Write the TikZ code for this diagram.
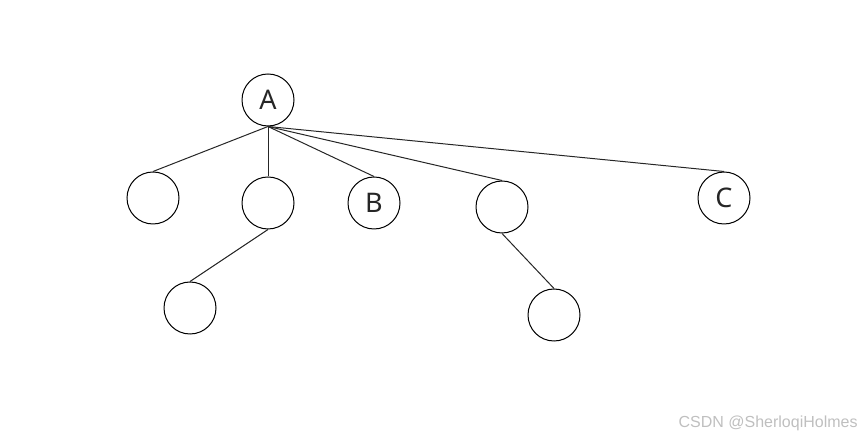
\documentclass[tikz,border=0pt]{standalone}
\usepackage{fontspec}
\setmainfont{Noto Sans}
\newfontfamily\markfont{Liberation Sans}
\usetikzlibrary{positioning}

\begin{document}
\begin{tikzpicture}[
    x=0.5pt, y=-0.5pt,
    vertex/.style={draw, circle, line width=0.5pt, minimum size=26pt, inner sep=0pt, font=\fontsize{13.5}{13.5}\selectfont, text=black!85},
    edge/.style={line width=0.5pt, draw=black!85}]
    \useasboundingbox (0,0) rectangle (861,437);
    % root and its children
    \node[vertex] (a) at (268,100) {A};
    \node[vertex] (c1) at (153,198) {};
    \node[vertex] (c2) at (268,203) {};
    \node[vertex] (b) at (374,203) {B};
    \node[vertex] (c4) at (502,207) {};
    \node[vertex] (c) at (724,198) {C};
    % second level
    \node[vertex] (g1) at (190,308) {};
    \node[vertex] (g2) at (554,315) {};
    \draw[edge] (a.south) -- (c1.north); \draw[edge] (a.south) -- (c2.north);
    \draw[edge] (a.south) -- (b.north); \draw[edge] (a.south) -- (c4.north);
    \draw[edge] (a.south) -- (c.north);
    \draw[edge] (c2.south) -- (g1.north); \draw[edge] (c4.south) -- (g2.north);
    \node[anchor=east, inner sep=0pt, font=\markfont\fontsize{8}{8}\selectfont, text=black!25] (mark) at (858,423) {CSDN @SherloqiHolmes};
\end{tikzpicture}
\end{document}
